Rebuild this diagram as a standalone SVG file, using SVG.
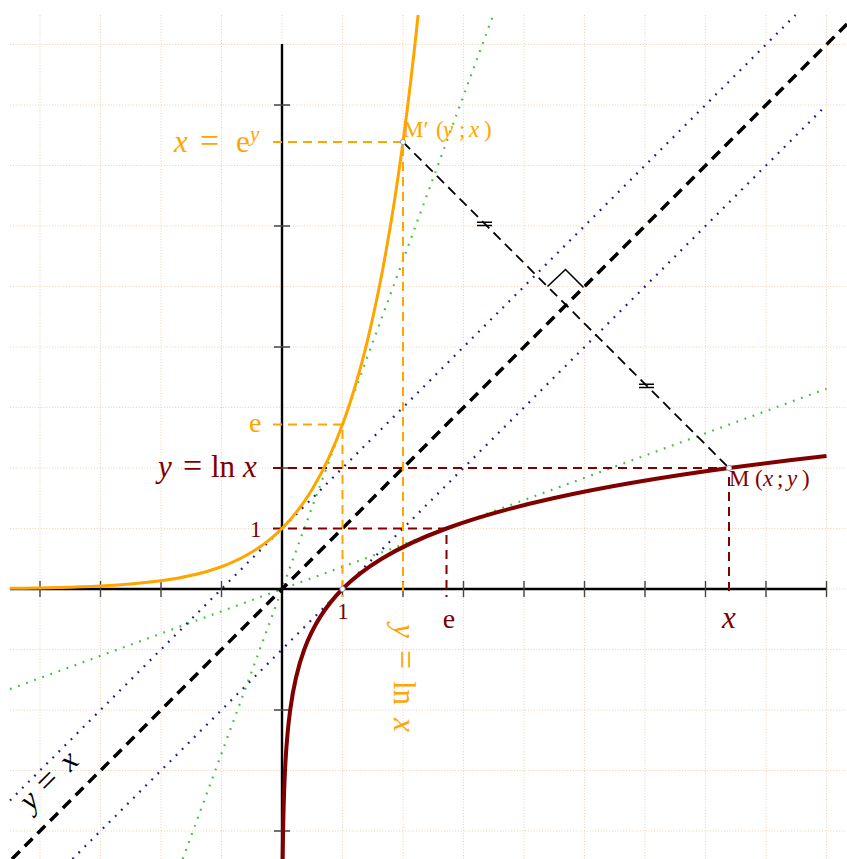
<svg xmlns="http://www.w3.org/2000/svg" width="847" height="859" viewBox="0 0 847 859">
<style>
.grid{stroke:#eccbab;stroke-width:0.9;stroke-dasharray:1 1.8;fill:none}
.axis{stroke:#000;stroke-width:2.4;fill:none}
.tick{stroke:#444;stroke-width:1.4}
.blue{stroke:#1a1a8c;stroke-width:2.2;stroke-dasharray:1.8 6.8;fill:none}
.green{stroke:#3fc33f;stroke-width:2.2;stroke-dasharray:1.8 6.8;fill:none}
.diag{stroke:#000;stroke-width:3.5;stroke-dasharray:11 7;fill:none}
.odash{stroke:#ffa500;stroke-width:2;stroke-dasharray:9 6;fill:none}
.rdash{stroke:#800000;stroke-width:2;stroke-dasharray:9 6;fill:none}
.bdash{stroke:#000;stroke-width:1.8;stroke-dasharray:10 6;fill:none}
.t{font-family:"Liberation Serif","Times New Roman",serif}
.i{font-style:italic}
.o{fill:#ffa500}
.r{fill:#800000}
.eq{font-size:34px}
.pt{fill:#fff;stroke:#9aa0c0;stroke-width:1}
</style>
<rect width="847" height="859" fill="#fff"/>
<g id="grid" class="grid">
<path d="M40 15V859M100.5 15V859M161 15V859M221.5 15V859M282 15V859M342.5 15V859M403 15V859M463.5 15V859M524 15V859M584.5 15V859M645 15V859M705.5 15V859M766 15V859M826.5 15V859"/>
<path d="M10 831H847M10 770.5H847M10 710H847M10 649.5H847M10 589H847M10 528.5H847M10 468H847M10 407.5H847M10 347H847M10 286.5H847M10 226H847M10 165.5H847M10 105H847M10 44.5H847"/>
</g>
<g id="connectors">
<line class="green" x1="182.7" y1="859" x2="493.2" y2="15"/>
<line class="green" x1="10" y1="689.1" x2="826.5" y2="388.8"/>
<line class="blue" x1="10" y1="800.5" x2="795.5" y2="15"/>
<line class="blue" x1="72.5" y1="859" x2="826.5" y2="105"/>
<line class="diag" x1="12" y1="859" x2="847" y2="24"/>
<g id="axes">
<line class="axis" x1="10" y1="589" x2="826.5" y2="589"/>
<line class="axis" x1="282" y1="44" x2="282" y2="859"/>
<path class="tick" d="M40 581V597M100.5 581V597M161 581V597M221.5 581V597M342.5 581V597M403 581V597M463.5 581V597M524 581V597M584.5 581V597M645 581V597M705.5 581V597M766 581V597M826.5 581V597"/>
<path class="tick" d="M274 105H290M274 226H290M274 347H290M274 468H290M274 710H290M274 831H290"/>
</g>
<path class="odash" d="M273 142H403V597"/>
<path class="odash" d="M273 424.5H342.5V597"/>
<path class="rdash" d="M273 468H729V597"/>
<path class="rdash" d="M273 528.5H446.5V597"/>
<line class="bdash" x1="403" y1="142" x2="729" y2="468"/>
<path d="M477 222.2H492M477 225.6H492M639 384.2H654M639 387.6H654" stroke="#000" stroke-width="1.5"/>
<path d="M547.5 286.5L565.5 269.5L583.5 287.5" fill="none" stroke="#000" stroke-width="1.6"/>
</g>
<g id="curve-exp">
<path fill="none" stroke="#ffa500" stroke-width="3" d="M9.75 588.33C40 588 70.25 587.5 100.5 585.99C120.67 584.99 140.83 583.54 161 580.81C181.17 578.08 201.33 574.16 221.5 566.74C241.67 559.32 261.83 548.67 282 528.5C292.08 518.42 302.17 505.87 312.25 489.25C322.33 472.63 332.42 451.96 342.5 424.55C352.58 397.14 362.67 363.05 372.75 317.86C382.83 272.67 392.92 216.47 403 141.96C408.04 104.71 413.08 62.82 418.13 14.99"/>
</g>
<g id="curve-ln">
<path fill="none" stroke="#800000" stroke-width="4" d="M282.67 861.25C283 831 283.5 800.75 285.01 770.5C286.01 750.33 287.46 730.17 290.19 710C292.92 689.83 296.84 669.67 304.26 649.5C311.68 629.33 322.33 609.17 342.5 589C352.58 578.92 365.13 568.83 381.75 558.75C398.37 548.67 419.04 538.58 446.45 528.5C473.86 518.42 507.95 508.33 553.14 498.25C598.33 488.17 654.53 478.08 729.04 468C758.43 464.02 790.71 460.05 826.5 456.07"/>
</g>
<g id="points">
<circle class="pt" cx="342.5" cy="589" r="2.6"/>
<circle class="pt" cx="403" cy="142" r="2.6"/>
<circle class="pt" cx="729" cy="468" r="2.6"/>
</g>
<g id="label-exp" class="t o">
<text y="152" font-size="31"><tspan x="174" class="i">x</tspan><tspan x="200" class="eq">=</tspan><tspan x="236">e</tspan><tspan x="250" y="141" font-size="21" class="i">y</tspan></text>
</g>
<g id="label-Mprime" class="t o">
<text y="137" font-size="23"><tspan x="403">M′</tspan><tspan x="436">(</tspan><tspan x="443" class="i">y</tspan><tspan x="459">;</tspan><tspan x="469" class="i">x</tspan><tspan x="484">)</tspan></text>
</g>
<g id="label-e-left" class="t o"><text x="249" y="432" font-size="28">e</text></g>
<g id="label-ln" class="t r">
<text y="477" font-size="31"><tspan x="158" class="i">y</tspan><tspan x="183" class="eq">=</tspan><tspan x="211">ln</tspan><tspan x="243" class="i">x</tspan></text>
</g>
<g id="label-1-left" class="t r"><text x="250" y="537" font-size="23">1</text></g>
<g id="label-M" class="t r">
<text y="486" font-size="23"><tspan x="729">M</tspan><tspan x="755">(</tspan><tspan x="763" class="i">x</tspan><tspan x="777">;</tspan><tspan x="787" class="i">y</tspan><tspan x="802">)</tspan></text>
</g>
<g id="label-1-axis" class="t r"><text x="343" y="619" font-size="23" text-anchor="middle">1</text></g>
<g id="label-e-axis" class="t r"><text x="449" y="628" font-size="28" text-anchor="middle">e</text></g>
<g id="label-x-axis" class="t r"><text x="729" y="628" font-size="31" text-anchor="middle" class="i">x</text></g>
<g id="label-ln-rot" class="t o">
<text transform="translate(394,624) rotate(90)" font-size="31"><tspan x="0" class="i">y</tspan><tspan x="26" class="eq">=</tspan><tspan x="57">ln</tspan><tspan x="94" class="i">x</tspan></text>
</g>
<g id="label-yx" class="t">
<text transform="translate(31,812) rotate(-45)" font-size="31" fill="#000"><tspan x="0" class="i">y</tspan><tspan x="24" class="eq">=</tspan><tspan x="56" class="i">x</tspan></text>
</g>
</svg>
